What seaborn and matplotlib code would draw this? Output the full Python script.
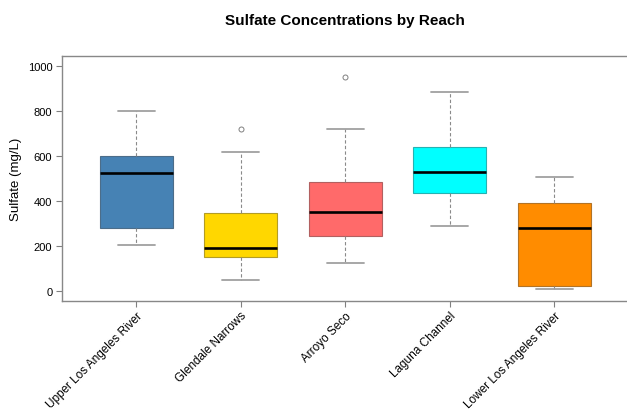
import numpy as np
import pandas as pd
import matplotlib
matplotlib.use("Agg")
import matplotlib.pyplot as plt
import matplotlib.colors as mcolors
import seaborn as sns

# ---- data (five-number summaries + outliers) ----
reaches = ["Upper Los Angeles River", "Glendale Narrows", "Arroyo Seco",
           "Laguna Channel", "Lower Los Angeles River"]
whisker_low = [207, 50, 124, 289, 9]
q1 = [279, 151, 246, 437, 22]
median = [523, 193, 351, 527, 279]
q3 = [600, 348, 486, 638, 390]
whisker_high = [800, 619, 718, 882, 508]
outliers = [[], [718], [951], [], []]
colors = ["#4682B4", "#FFD700", "#FF6A6A", "#00FFFF", "#FF8C00"]

# Build sample lists whose quartiles reproduce the summaries exactly
rows = []
for i, r in enumerate(reaches):
    vals = [whisker_low[i], q1[i], q1[i], median[i], median[i],
            q3[i], q3[i], whisker_high[i]] + outliers[i]
    rows += [(r, v) for v in vals]
df = pd.DataFrame(rows, columns=["Reach", "Sulfate"])

sns.set_theme(style="white")
plt.rcParams["font.family"] = ["Liberation Sans", "DejaVu Sans"]

fig = plt.figure(figsize=(6.27, 4.14), dpi=100)
ax = fig.add_axes([0.099, 0.2705, 0.905, 0.5918])

sns.boxplot(data=df, x="Reach", y="Sulfate", hue="Reach", order=reaches,
            hue_order=reaches, palette=colors, legend=False, width=0.7,
            dodge=False, linewidth=0.8, linecolor="#555555",
            whis=1.5,
            medianprops=dict(color="black", linewidth=1.9),
            whiskerprops=dict(color="#8a8a8a", linewidth=0.8, linestyle=(0, (3, 2))),
            capprops=dict(color="#a0a0a0", linewidth=1.3),
            flierprops=dict(marker="o", markerfacecolor="none",
                            markeredgecolor="#808080", markersize=3.6,
                            markeredgewidth=0.7),
            ax=ax)

# darker outline per box, like the reference
for patch, c in zip(ax.patches, colors):
    rgb = np.array(mcolors.to_rgb(c))
    edge = rgb * 0.55 + np.array([0.33, 0.33, 0.33]) * 0.45
    patch.set_edgecolor(edge)
    patch.set_facecolor(c)

ax.set_xlim(-0.71, 4.72)
ax.set_ylim(-43, 1043)
ax.set_yticks([0, 200, 400, 600, 800, 1000])
ax.set_yticklabels(["0", "200", "400", "600", "800", "1000"])
ax.set_xlabel("")
ax.set_ylabel("Sulfate (mg/L)", fontsize=9.5, color="black", labelpad=4)
ax.set_xticks(range(len(reaches)))
ax.set_xticklabels(reaches, rotation=45, ha="right", rotation_mode="anchor",
                   fontsize=8.5, color="black")
ax.tick_params(axis="y", labelsize=8, colors="black", length=4, width=0.8,
               left=True, color="#808080", pad=3)
ax.tick_params(axis="x", length=4, width=0.8, bottom=True, color="#808080", pad=2)
for s in ax.spines.values():
    s.set_color("#888888")
    s.set_linewidth(1.0)
ax.grid(False)

fig.text(0.55, 0.95, "Sulfate Concentrations by Reach", ha="center",
         va="center", fontsize=11, fontweight="bold", color="black")

fig.savefig("out.png", dpi=100)
